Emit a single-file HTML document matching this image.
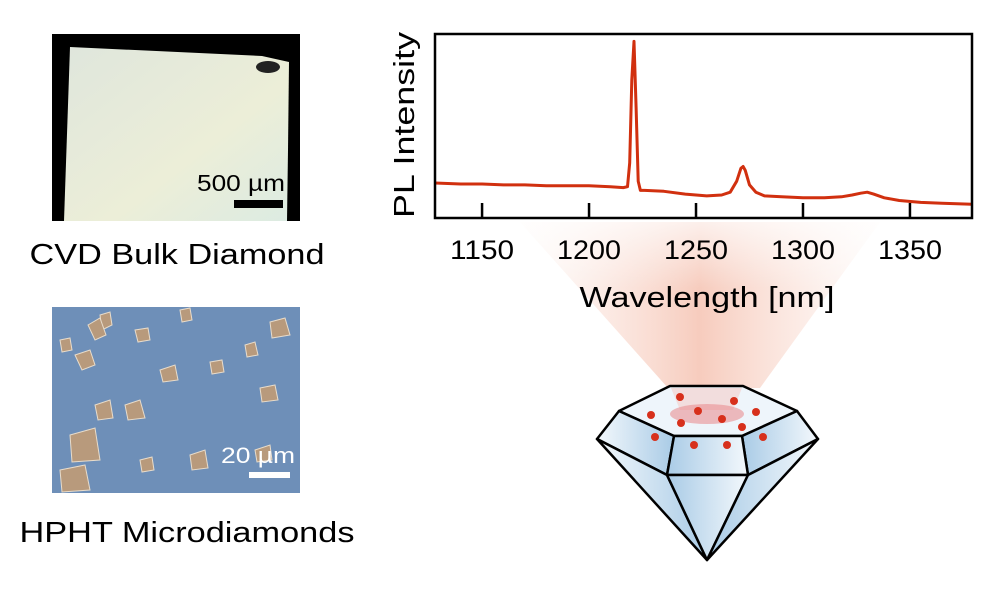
<!DOCTYPE html>
<html><head><meta charset="utf-8"><style>
body{margin:0;width:1000px;height:600px;background:#fff;overflow:hidden;font-family:"Liberation Sans",sans-serif}
svg{position:absolute;left:0;top:0}
</style></head><body>
<svg width="1000" height="600">
<defs>
<linearGradient id="beam" x1="0" x2="1" y1="0" y2="0">
<stop offset="0" stop-color="#f9d8cc" stop-opacity="0.1"/><stop offset="0.5" stop-color="#f2b09a" stop-opacity="0.65"/><stop offset="1" stop-color="#f9d8cc" stop-opacity="0.1"/></linearGradient>
<linearGradient id="beamv" x1="0" x2="0" y1="0" y2="1"><stop offset="0" stop-color="#fff" stop-opacity="0.7"/><stop offset="0.4" stop-color="#fff" stop-opacity="0"/></linearGradient>
<linearGradient id="gem" x1="0" x2="1"><stop offset="0" stop-color="#a9cbe6"/><stop offset="1" stop-color="#f3f8fc"/></linearGradient>
<linearGradient id="gem2" x1="1" x2="0"><stop offset="0" stop-color="#a9cbe6"/><stop offset="1" stop-color="#f3f8fc"/></linearGradient>
<linearGradient id="cvd" x1="0" y1="0" x2="1" y2="1"><stop offset="0" stop-color="#dfe6dc"/><stop offset="0.6" stop-color="#eceed8"/><stop offset="1" stop-color="#dcebe2"/></linearGradient>
</defs>
<g>
<rect x="52" y="34" width="248" height="187" fill="#000"/>
<polygon points="70,47 262,56 289,62 288,150 287,221 64,221" fill="url(#cvd)"/>
<ellipse cx="268" cy="67" rx="12" ry="6" fill="#222"/>
<text x="241" y="191" font-size="23" text-anchor="middle" textLength="88" lengthAdjust="spacingAndGlyphs">500 µm</text>
<rect x="234" y="200" width="49" height="8" fill="#000"/>
</g>
<text x="177" y="264" font-size="29" text-anchor="middle" textLength="295" lengthAdjust="spacingAndGlyphs">CVD Bulk Diamond</text>
<g>
<rect x="52" y="307" width="248" height="186" fill="#6e8fb8"/>
<g fill="#b89a7c" stroke="#e8dccb" stroke-width="1">
<polygon points="100,315 110,312 112,325 102,330"/><polygon points="88,325 100,318 106,335 95,340"/>
<polygon points="75,355 90,350 95,365 82,370"/><polygon points="60,340 70,338 72,350 62,352"/>
<polygon points="135,330 148,328 150,340 138,342"/><polygon points="180,310 190,308 192,320 182,322"/>
<polygon points="270,322 285,318 290,335 272,338"/><polygon points="245,345 255,342 258,355 247,357"/>
<polygon points="160,370 175,365 178,380 163,382"/><polygon points="125,405 140,400 145,418 128,420"/>
<polygon points="95,405 110,400 113,418 98,420"/><polygon points="70,435 95,428 100,460 72,462"/>
<polygon points="60,470 85,465 90,490 62,492"/><polygon points="255,450 270,445 272,460 257,462"/>
<polygon points="190,455 205,450 208,468 192,470"/><polygon points="260,388 275,385 278,400 262,402"/>
<polygon points="210,362 222,360 224,372 212,374"/><polygon points="140,460 152,457 154,470 142,472"/>
</g>
<text x="258" y="463" font-size="22" fill="#fff" text-anchor="middle" textLength="74" lengthAdjust="spacingAndGlyphs">20 µm</text>
<rect x="249" y="472" width="41" height="6" fill="#fff"/>
</g>
<text x="187" y="542" font-size="29" text-anchor="middle" textLength="335" lengthAdjust="spacingAndGlyphs">HPHT Microdiamonds</text>
<polygon points="520,222 880,222 760,388 668,388" fill="url(#beam)"/>
<polygon points="520,222 880,222 760,388 668,388" fill="url(#beamv)"/>
<g id="chart"></g>
<g stroke="#000" stroke-width="2.5" stroke-linejoin="round">
<polygon points="670,386 743,386 797,411 742,436 674,436 619,411" fill="#eef5fb"/>
<polygon points="619,411 674,436 667,475 597,439" fill="url(#gem2)"/>
<polygon points="797,411 818,439 748,475 742,436" fill="url(#gem)"/>
<polygon points="674,436 742,436 748,475 667,475" fill="url(#gem)"/>
<polygon points="597,439 667,475 707,560" fill="url(#gem2)"/>
<polygon points="667,475 748,475 707,560" fill="url(#gem)"/>
<polygon points="748,475 818,439 707,560" fill="url(#gem)"/>
<polygon points="671,388 742,388 733,410 680,410" fill="#f5c5bf" stroke="none" opacity="0.5"/>
<ellipse cx="707" cy="414" rx="37" ry="10" fill="#e98f93" opacity="0.6" stroke="none"/>
<g fill="#d7301c" stroke="none">
<circle cx="680" cy="397" r="4"/><circle cx="734" cy="401" r="4"/><circle cx="651" cy="415" r="4"/>
<circle cx="698" cy="411" r="4"/><circle cx="756" cy="412" r="4"/><circle cx="681" cy="423" r="4"/>
<circle cx="722" cy="419" r="4"/><circle cx="742" cy="427" r="4"/><circle cx="655" cy="437" r="4"/>
<circle cx="694" cy="445" r="4"/><circle cx="727" cy="445" r="4"/><circle cx="763" cy="437" r="4"/>
</g>
</g>
</svg>
<script>
const wavelengths=[1128,1140,1150,1160,1170,1180,1190,1200,1210,1216,1218,1219,1220,1221,1222,1223,1224,1226,1235,1245,1255,1262,1266,1269,1271,1272,1273,1275,1278,1282,1290,1300,1310,1318,1323,1327,1330,1333,1338,1345,1355,1365,1379];
const intensities=[0.19,0.185,0.185,0.18,0.18,0.175,0.175,0.175,0.17,0.165,0.17,0.3,0.75,0.96,0.6,0.2,0.15,0.15,0.145,0.13,0.12,0.125,0.14,0.2,0.27,0.28,0.26,0.18,0.14,0.12,0.115,0.11,0.11,0.115,0.125,0.135,0.14,0.13,0.11,0.095,0.085,0.08,0.075];
const xTicks=[1150,1200,1250,1300,1350];
const X0=435,X1=972,Y0=218,Y1=34,XMIN=1128,XMAX=1379;
const sx=v=>X0+(v-XMIN)/(XMAX-XMIN)*(X1-X0);
const sy=v=>Y0-v*(Y0-Y1);
const NS="http://www.w3.org/2000/svg";
const g=document.getElementById('chart');
function mk(t,a){const e=document.createElementNS(NS,t);for(const k in a)e.setAttribute(k,a[k]);g.appendChild(e);return e;}
const bg=mk('rect',{x:X0,y:Y1,width:X1-X0,height:Y0-Y1,fill:'#fff'});


xTicks.forEach(t=>{
 const l=mk('line',{x1:sx(t),x2:sx(t),y1:Y0,y2:Y0-15,stroke:'#000','stroke-width':2.5});
 
 
 const tx=mk('text',{x:sx(t),y:Y0+41,'font-size':27,'text-anchor':'middle',textLength:64,lengthAdjust:'spacingAndGlyphs'});
 tx.textContent=t;
 
 
});
const d=wavelengths.map((w,i)=>(i?'L':'M')+sx(w).toFixed(1)+','+sy(intensities[i]).toFixed(1)).join('');
const p=mk('path',{d:d,fill:'none',stroke:'#d1300f','stroke-width':3,'stroke-linejoin':'round'});


const fr=mk('rect',{x:X0,y:Y1,width:X1-X0,height:Y0-Y1,fill:'none',stroke:'#000','stroke-width':2.5});


const xl=mk('text',{x:707,y:307,'font-size':29,'text-anchor':'middle',textLength:255,lengthAdjust:'spacingAndGlyphs'});
xl.textContent='Wavelength [nm]';


const yl=mk('text',{x:0,y:0,'font-size':29,'text-anchor':'middle',textLength:186,lengthAdjust:'spacingAndGlyphs',transform:'translate(414,125) rotate(-90)'});
yl.textContent='PL Intensity';


</script>
</body></html>
